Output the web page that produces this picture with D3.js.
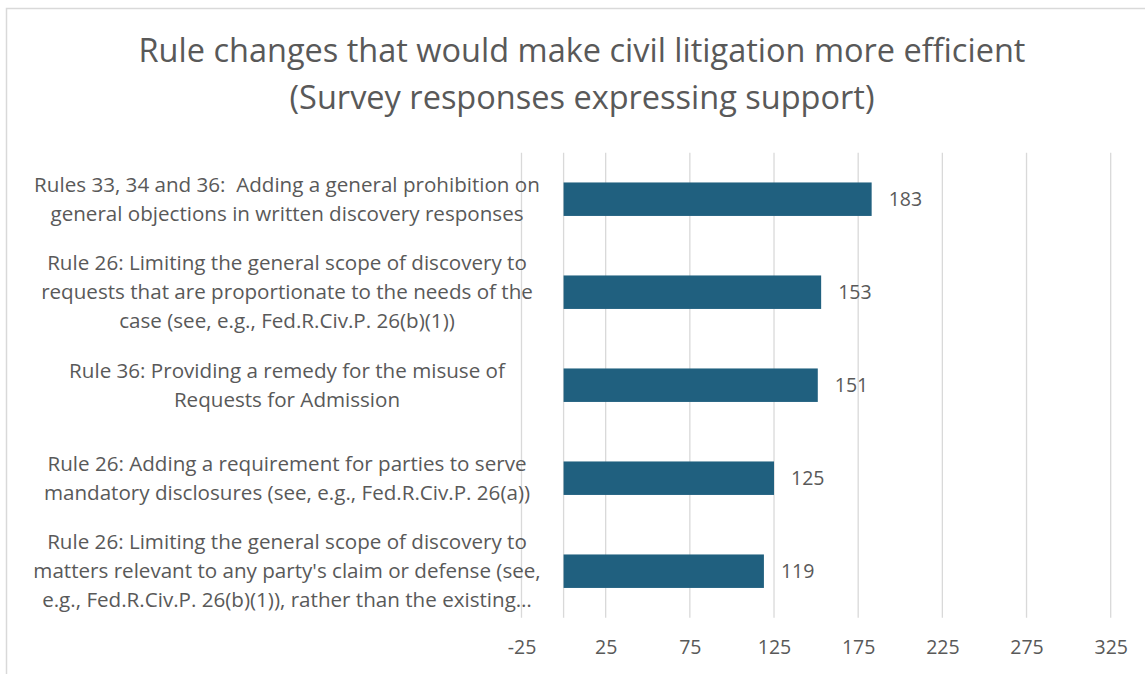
<!DOCTYPE html>
<html>
<head>
<meta charset="utf-8">
<script src="https://cdn.jsdelivr.net/npm/d3@7"></script>
<style>
  body { margin: 0; background: #fff; }
  svg text { font-family: "Open Sans", Lato, sans-serif; fill: #595959; white-space: pre; }
</style>
</head>
<body>
<svg id="chart"></svg>
<script>
// --- data ---
const categories = [
    ["Rules 33, 34 and 36:  Adding a general prohibition on", "general objections in written discovery responses"],
    ["Rule 26: Limiting the general scope of discovery to", "requests that are proportionate to the needs of the", "case (see, e.g., Fed.R.Civ.P. 26(b)(1))"],
    ["Rule 36: Providing a remedy for the misuse of", "Requests for Admission"],
    ["Rule 26: Adding a requirement for parties to serve", "mandatory disclosures (see, e.g., Fed.R.Civ.P. 26(a))"],
    ["Rule 26: Limiting the general scope of discovery to", "matters relevant to any party's claim or defense (see,", "e.g., Fed.R.Civ.P. 26(b)(1)), rather than the existing…"]
];
const values = [183, 153, 151, 125, 119];
const tickValues = [-25, 25, 75, 125, 175, 225, 275, 325];
const titleLines = ["Rule changes that would make civil litigation more efficient", "(Survey responses expressing support)"];

// --- layout ---
const width = 1145, height = 674;
const plot = { left: 521.5, right: 1110.7, top: 152.7, bottom: 617.7 };
const barColor = "#20607f";

const svg = d3.select("#chart").attr("width", width).attr("height", height);

// chart border
svg.append("rect")
    .attr("x", 6.5).attr("y", 8.5)
    .attr("width", width + 10).attr("height", height + 10)
    .attr("fill", "none").attr("stroke", "#d9d9d9").attr("stroke-width", 1.5);

// title
svg.append("g").selectAll("text")
    .data(titleLines)
    .join("text")
    .attr("x", 582)
    .attr("y", (d, i) => 51 + i * 47)
    .attr("dy", "0.35em")
    .attr("text-anchor", "middle")
    .attr("font-size", 32.5)
    .text(d => d);

// scales
const x = d3.scaleLinear().domain([-25, 325]).range([plot.left, plot.right]);
const y = d3.scaleBand().domain(d3.range(values.length)).range([plot.top, plot.bottom]).paddingInner(0.64).paddingOuter(0.32);

// gridlines (including the zero line)
svg.append("g").selectAll("line")
    .data(tickValues.concat([0]))
    .join("line")
    .attr("x1", d => x(d)).attr("x2", d => x(d))
    .attr("y1", plot.top).attr("y2", plot.bottom)
    .attr("stroke", "#d9d9d9").attr("stroke-width", 1.3);

// x axis labels
const xAxis = svg.append("g")
    .attr("transform", `translate(0,${plot.bottom})`)
    .call(d3.axisBottom(x).tickValues(tickValues).tickSize(0).tickPadding(22).tickFormat(d => String(d)));
xAxis.select(".domain").remove();
xAxis.selectAll("text")
    .attr("font-size", 19.5)
    .attr("font-family", "'Open Sans', Lato, sans-serif")
    .attr("fill", "#595959");

// bars
svg.append("g").selectAll("rect")
    .data(values)
    .join("rect")
    .attr("x", x(0))
    .attr("y", (d, i) => y(i))
    .attr("width", d => x(d) - x(0))
    .attr("height", y.bandwidth())
    .attr("fill", barColor);

// data labels
svg.append("g").selectAll("text")
    .data(values)
    .join("text")
    .attr("x", d => x(d) + 17)
    .attr("y", (d, i) => y(i) + y.bandwidth() / 2)
    .attr("dy", "0.35em")
    .attr("font-size", 19.5)
    .text(d => d);

// category labels (centred blocks)
const lineH = 29;
const catG = svg.append("g");
categories.forEach((lines, i) => {
    const cy = y(i) + y.bandwidth() / 2;
    const y0 = cy - (lines.length - 1) * lineH / 2;
    catG.append("g").selectAll("text")
        .data(lines)
        .join("text")
        .attr("x", 287)
        .attr("y", (d, j) => y0 + j * lineH)
        .attr("dy", "0.35em")
        .attr("text-anchor", "middle")
        .attr("font-size", 20.6)
        .text(d => d);
});
</script>
</body>
</html>
